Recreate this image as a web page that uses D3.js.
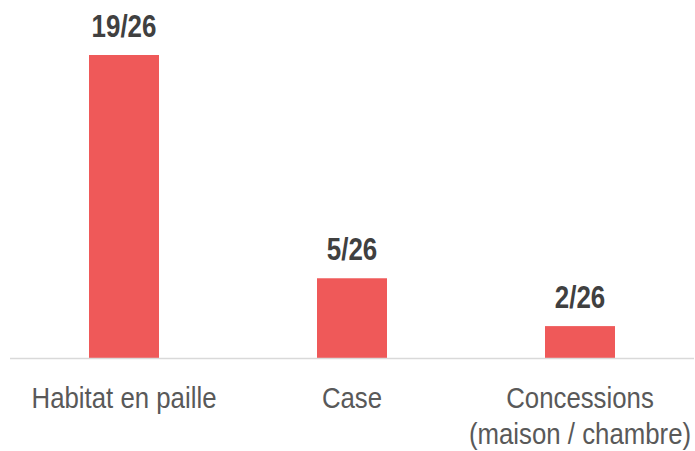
<!DOCTYPE html>
<html><head><meta charset="utf-8">
<script src="https://cdn.jsdelivr.net/npm/d3@7"></script>
<style>
html,body{margin:0;padding:0;background:#fff;}
svg{display:block;}
text{font-family:"Liberation Sans Narrow","Liberation Sans",Arial,sans-serif;}
</style></head>
<body>
<script>
const categories = [["Habitat en paille"], ["Case"], ["Concessions", "(maison / chambre)"]];
const values = [19, 5, 2];
const labels = ["19/26", "5/26", "2/26"];

const W = 695, H = 451;
const svg = d3.select("body").append("svg").attr("width", W).attr("height", H);

const x = d3.scaleBand().domain(d3.range(values.length)).range([10, 694])
  .paddingInner(0.693).paddingOuter(0.3465);
const y = d3.scaleLinear().domain([0, 19]).range([358, 55]);

svg.append("g").selectAll("rect").data(values).join("rect")
  .attr("x", (d, i) => x(i)).attr("width", x.bandwidth())
  .attr("y", d => y(d)).attr("height", d => y(0) - y(d))
  .attr("fill", "#EF5959");

svg.append("line").attr("x1", 10).attr("x2", 694).attr("y1", y(0) + 0.5).attr("y2", y(0) + 0.5)
  .attr("stroke", "#D9D9D9").attr("stroke-width", 1.5);

svg.append("g").selectAll("text").data(values).join("text")
  .attr("transform", (d, i) => `translate(${x(i) + x.bandwidth() / 2},${y(d) - 18}) scale(0.85,1)`)
  .attr("text-anchor", "middle").attr("font-size", 30.5).attr("font-weight", "bold")
  .attr("fill", "#404040").text((d, i) => labels[i]);

const cat = svg.append("g").selectAll("text").data(categories).join("text")
  .attr("transform", (d, i) => `translate(${x(i) + x.bandwidth() / 2},408) scale(0.86,1)`)
  .attr("text-anchor", "middle").attr("font-size", 30).attr("fill", "#595959");
cat.each(function(lines, i) {
  const t = d3.select(this);
  lines.forEach((l, j) => t.append("tspan").attr("x", 0).attr("dy", j ? 36 : 0).text(l));
});
</script>
</body></html>
